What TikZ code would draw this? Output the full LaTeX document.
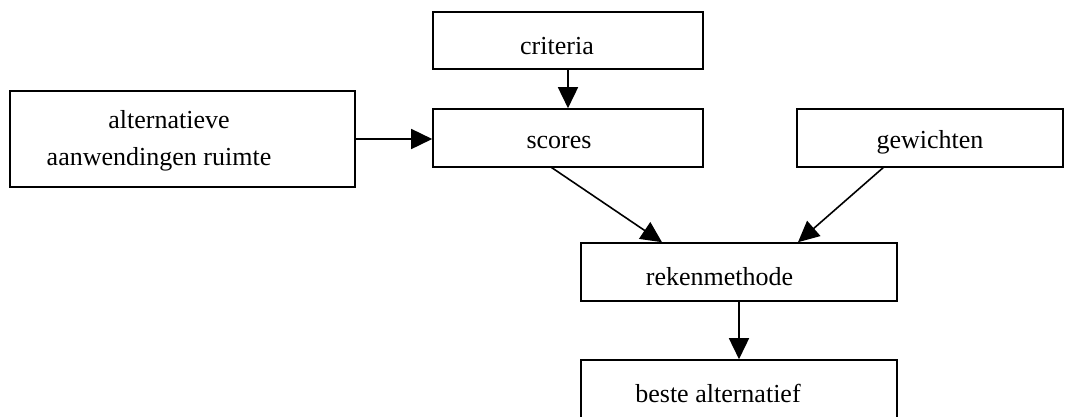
\documentclass[tikz,border=0pt]{standalone}
\usepackage{fontspec}
\setmainfont{Liberation Serif}
\usepackage{tikz}
\usetikzlibrary{arrows.meta}
\tikzset{
  blok/.style={draw,line width=1.6pt,rectangle,inner sep=0pt},
  tekst/.style={anchor=base,inner sep=0pt,font=\fontsize{26}{31}\selectfont}
}
\begin{document}
\begin{tikzpicture}[line cap=rect,line join=miter,>={Triangle[length=21pt,width=20pt]},x=1pt,y=-1pt]
\useasboundingbox (0,0) rectangle (1071,416);
\clip (0,0) rectangle (1071,416);
\node[blok,minimum width=270,minimum height=57] (crit) at (568,40.5) {};
\node[blok,minimum width=270,minimum height=58] (scores) at (568,138) {};
\node[blok,minimum width=345,minimum height=96] (alt) at (182.5,139) {};
\node[blok,minimum width=266,minimum height=58] (gew) at (930,138) {};
\node[blok,minimum width=316,minimum height=58] (reken) at (739,272) {};
\node[blok,minimum width=316,minimum height=58] (beste) at (739,389) {};
\node[tekst] (critT) at (557,54) {criteria};
\node[tekst] (scoresT) at (559,148) {scores};
\node[tekst] (altT) at (169,128) {alternatieve};
\node[tekst] (altT2) at (159,165) {aanwendingen ruimte};
\node[tekst] (gewT) at (930,148) {gewichten};
\node[tekst] (rekenT) at (719.5,285) {rekenmethode};
\node[tekst] (besteT) at (718,402) {beste alternatief};
\draw[->,line width=1.6pt] (crit.south) -- (scores.north);
\draw[->,line width=1.6pt] (alt.east) -- (alt.east -| scores.west);
\draw[->,line width=1.6pt] ([xshift=-16]scores.south) -- ([xshift=-77]reken.north);
\draw[->,line width=1.6pt] ([xshift=-47]gew.south) -- ([xshift=59]reken.north);
\draw[->,line width=1.6pt] (reken.south) -- (beste.north);
\end{tikzpicture}
\end{document}
